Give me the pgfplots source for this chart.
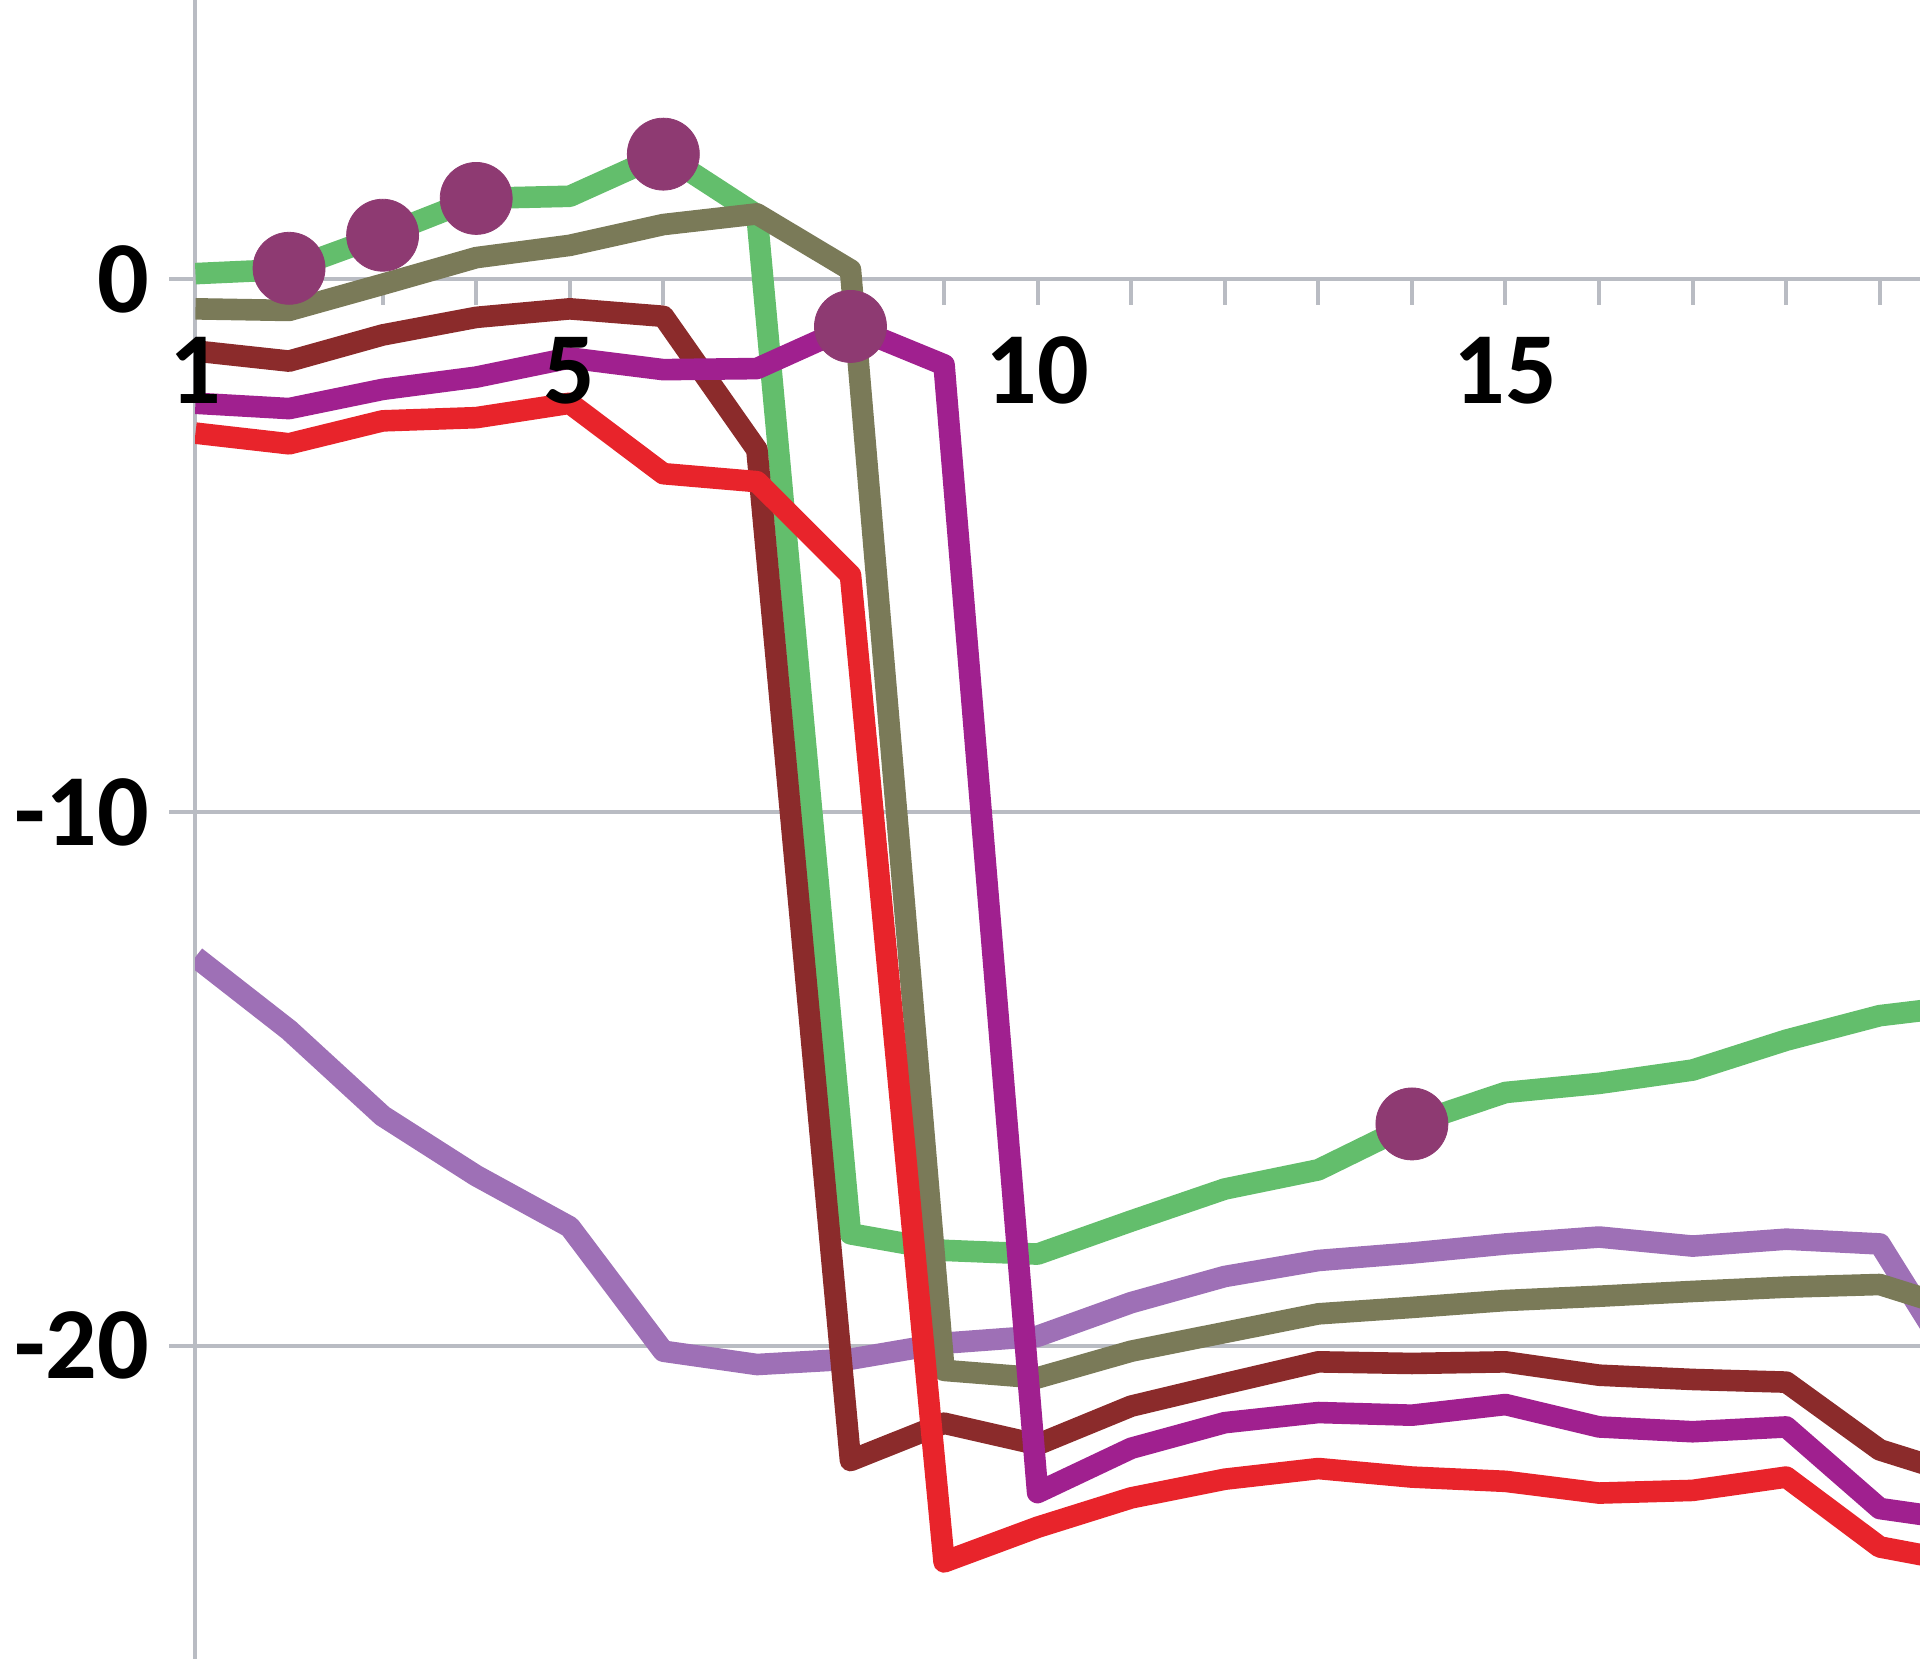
\documentclass[border=0pt]{standalone}
\usepackage{pgfplots}
\pgfplotsset{compat=1.18}
\usepackage{fontspec}
\setmainfont{Carlito}
\definecolor{cgreen}{HTML}{63BE6C}
\definecolor{colive}{HTML}{7A7A58}
\definecolor{cbrown}{HTML}{8B2B2B}
\definecolor{cmagenta}{HTML}{A0208F}
\definecolor{cred}{HTML}{E8242B}
\definecolor{clav}{HTML}{9E70B6}
\definecolor{cmark}{HTML}{8E3A72}
\definecolor{gridgray}{HTML}{B9BCC3}
\pgfplotsset{
  /pgfplots/layers/labelsontop/.define layer set={
    axis background,axis grid,axis ticks,axis lines,main,
    axis tick labels,axis descriptions,axis foreground
  }{/pgfplots/layers/standard},
}
\tikzset{dl/.style={line width=5.4pt, line join=round, mark=none}}
\begin{document}
\begin{tikzpicture}
\begin{axis}[
  set layers=labelsontop,
  at={(48.75pt,0pt)}, anchor=south west,
  scale only axis, width=431.25pt, height=414.75pt,
  xmin=0.995, xmax=19.43, ymin=-25.87, ymax=5.23,
  axis x line=middle, axis y line=left,
  hide obscured x ticks=false,
  x axis line style={-, draw=gridgray, line width=1.1pt},
  y axis line style={-, draw=gridgray, line width=1.1pt},
  xtick={1,5,10,15}, xticklabels={1,5,10,15},
  minor xtick={2,3,4,6,7,8,9,11,12,13,14,16,17,18,19},
  ytick={-20,-10,0}, yticklabels={-20,-10,0},
  ymajorgrids, major grid style={draw=gridgray, line width=1pt},
  tick align=outside,
  major tick length=6.5pt, minor tick length=6.5pt,
  tick style={draw=gridgray, line width=1pt},
  ticklabel style={font=\fontsize{25.5}{25.5}\selectfont\bfseries, text=black},
  xticklabel style={yshift=-4.5pt},
  yticklabel style={xshift=-1.5pt},
  clip=true,
]
\addplot[draw=clav, dl] coordinates {(1,-12.71)(2,-14.08)(3,-15.69)(4,-16.81)(5,-17.77)(6,-20.1)(7,-20.35)(8,-20.25)(9,-19.95)(10,-19.82)(11,-19.19)(12,-18.7)(13,-18.4)(14,-18.26)(15,-18.09)(16,-17.96)(17,-18.13)(18,-18.0)(19,-18.09)(20,-20.9)};
\addplot[draw=cgreen, dl] coordinates {(1,0.10)(2,0.18)(3,0.82)(4,1.51)(5,1.55)(6,2.34)(7,1.2)(8,-17.9)(9,-18.21)(10,-18.28)(11,-17.66)(12,-17.06)(13,-16.7)(14,-15.84)(15,-15.25)(16,-15.08)(17,-14.83)(18,-14.27)(19,-13.81)(20,-13.6)};
\addplot[draw=colive, dl] coordinates {(1,-0.56)(2,-0.59)(3,-0.10)(4,0.40)(5,0.63)(6,1.02)(7,1.22)(8,0.17)(9,-20.46)(10,-20.6)(11,-20.1)(12,-19.75)(13,-19.4)(14,-19.28)(15,-19.15)(16,-19.07)(17,-18.98)(18,-18.9)(19,-18.85)(20,-19.4)};
\addplot[draw=cbrown, dl] coordinates {(1,-1.35)(2,-1.54)(3,-1.05)(4,-0.72)(5,-0.56)(6,-0.70)(7,-3.2)(8,-22.15)(9,-21.45)(10,-21.85)(11,-21.13)(12,-20.71)(13,-20.3)(14,-20.33)(15,-20.3)(16,-20.55)(17,-20.63)(18,-20.68)(19,-21.95)(20,-22.5)};
\addplot[draw=cred, dl] coordinates {(1,-2.89)(2,-3.09)(3,-2.66)(4,-2.6)(5,-2.33)(6,-3.65)(7,-3.8)(8,-5.55)(9,-24.05)(10,-23.4)(11,-22.85)(12,-22.5)(13,-22.3)(14,-22.46)(15,-22.54)(16,-22.76)(17,-22.71)(18,-22.46)(19,-23.77)(20,-24.1)};
\addplot[draw=cmagenta, dl] coordinates {(1,-2.33)(2,-2.43)(3,-2.07)(4,-1.84)(5,-1.48)(6,-1.70)(7,-1.68)(8,-0.89)(9,-1.61)(10,-22.75)(11,-21.92)(12,-21.44)(13,-21.25)(14,-21.3)(15,-21.1)(16,-21.52)(17,-21.61)(18,-21.52)(19,-23.05)(20,-23.3)};
\addplot[only marks, mark=*, mark size=9pt, mark options={fill=cmark, draw=cmark, line width=0.2pt}] coordinates {(2,0.2)(3,0.82)(4,1.51)(6,2.34)(8,-0.89)(14,-15.84)};
\end{axis}
\pgfresetboundingbox
\useasboundingbox (0,0) rectangle (480pt,414.75pt);
\end{tikzpicture}
\end{document}
